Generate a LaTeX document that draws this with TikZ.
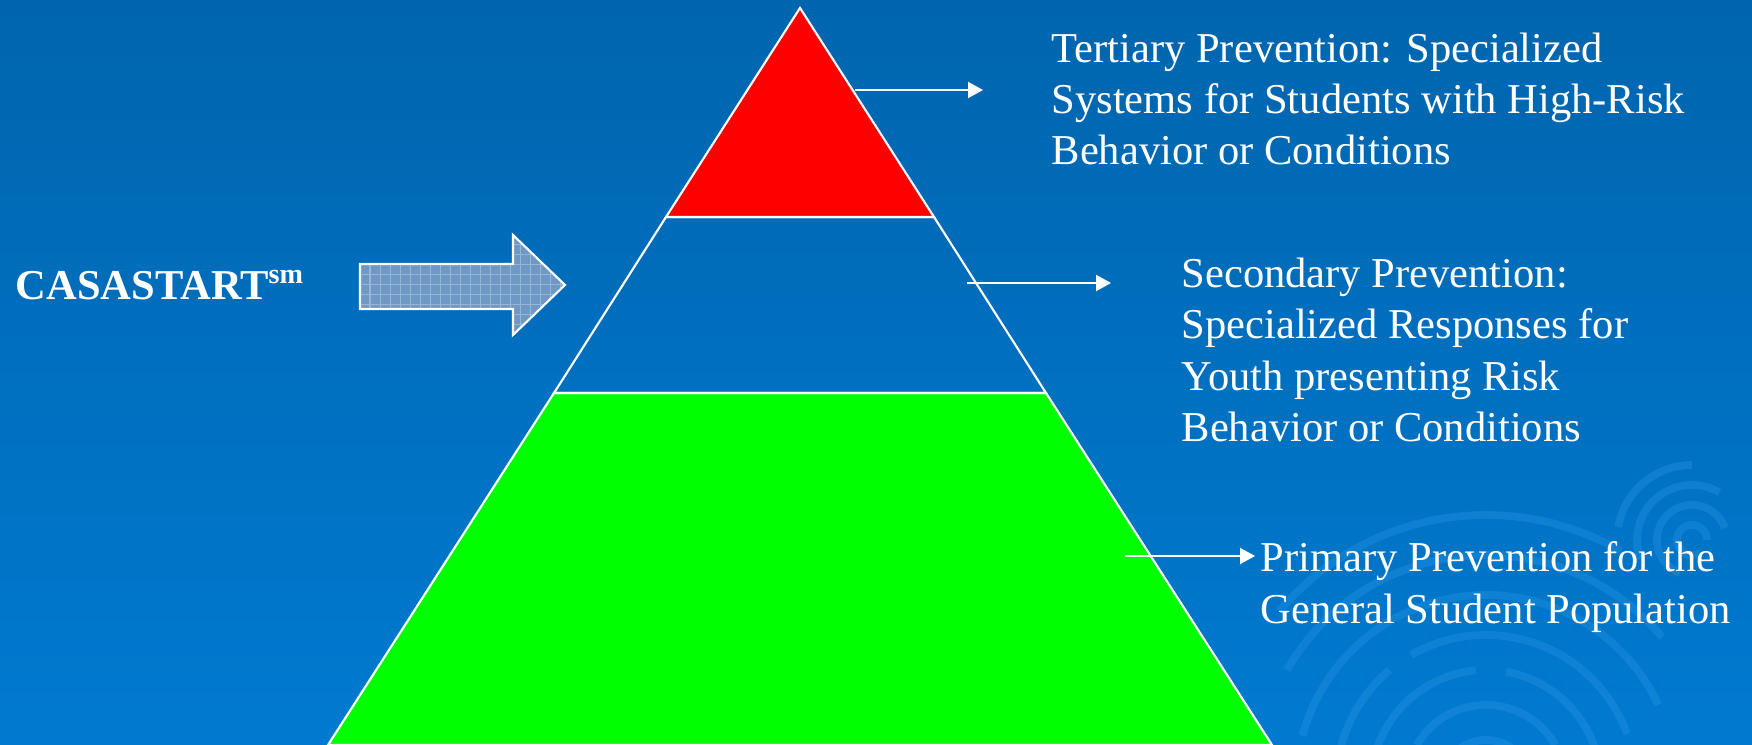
\documentclass[tikz,border=0pt]{standalone}
\usepackage{fontspec}
\setmainfont{Liberation Serif}
\usetikzlibrary{arrows.meta,calc}
\definecolor{bgtop}{RGB}{0,101,174}
\definecolor{bgbot}{RGB}{0,122,208}
\definecolor{swirl}{RGB}{45,150,230}
\definecolor{arrfill}{RGB}{112,152,196}
\definecolor{arrgrid}{RGB}{150,182,216}
\definecolor{pgreen}{RGB}{0,255,0}
\tikzset{
  tier/.style = {draw=white, line width=0.6pt},
  tier_r/.style = {tier, fill=red},
  tier_g/.style = {tier, fill=pgreen},
  labeltext/.style = {align=left, anchor=west, inner sep=0pt, text=white, font=\fontsize{12.1}{14.6}\selectfont},
  pointer/.style = {draw=white, line width=0.6pt, -{Triangle[length=1.5mm,width=1.6mm]}},
  swirlarc/.style = {draw=swirl, line width=2.2pt, opacity=0.35}
}

\begin{document}
\begin{tikzpicture}
  % background
  \shade[top color=bgtop, bottom color=bgbot] (0,0) rectangle (17.52,7.45);
  \useasboundingbox (0,0) rectangle (17.52,7.45);
  \begin{scope}
    \clip (0,0) rectangle (17.52,7.45);
    \foreach \r/\a/\b in {0.45/10/160, 0.8/30/150, 0.8/165/200, 1.15/15/80, 1.15/95/170,
                          1.5/20/120, 1.5/130/175, 1.9/25/165, 2.3/40/150, 2.7/60/140}
      \draw[swirlarc] (14.86,-0.40) ++(\a:\r) arc[start angle=\a, end angle=\b, radius=\r];
    \foreach \r/\a/\b in {0.15/0/300, 0.35/20/250, 0.55/60/200, 0.75/90/170}
      \draw[swirlarc] (16.92,2.05) ++(\a:\r) arc[start angle=\a, end angle=\b, radius=\r];
  \end{scope}

  % pyramid
  \coordinate (apex) at (8.00,7.37);
  \path[tier_g] (3.28,0) -- (12.72,0) -- (10.46,3.52) -- (5.54,3.52) -- cycle;
  \path[tier] (5.54,3.52) -- (10.46,3.52) -- (9.34,5.28) -- (6.66,5.28) -- cycle;
  \path[tier_r] (6.66,5.28) -- (9.34,5.28) -- (apex) -- cycle;

  % block arrow
  \begin{scope}
    \clip (3.60,4.81) -- (5.13,4.81) -- (5.13,5.10) -- (5.65,4.60) -- (5.13,4.10) -- (5.13,4.36) -- (3.60,4.36) -- cycle;
    \fill[arrfill] (3.5,4.0) rectangle (5.7,5.2);
    \draw[arrgrid, line width=0.3pt, step=0.1] (3.5,4.0) grid (5.7,5.2);
  \end{scope}
  \draw[white, line width=0.6pt] (3.60,4.81) -- (5.13,4.81) -- (5.13,5.10) -- (5.65,4.60) -- (5.13,4.10) -- (5.13,4.36) -- (3.60,4.36) -- cycle;

  % labels
  \node[labeltext, font=\fontsize{12.1}{14.6}\selectfont\bfseries] (casa) at (0.15,4.60) {CASASTART\textsuperscript{\fontsize{8}{9}\selectfont sm}};
  \node[labeltext] (tertiary) at (10.51,6.46) {Tertiary Prevention: Specialized\\Systems for Students with High-Risk\\Behavior or Conditions};
  \node[labeltext] (secondary) at (11.81,3.95) {Secondary Prevention:\\Specialized Responses for\\Youth presenting Risk\\Behavior or Conditions};
  \node[labeltext] (primary) at (12.60,1.58) {Primary Prevention for the\\General Student Population};

  % pointers
  \coordinate (t_from) at (8.55,6.55);
  \coordinate (t_to) at (9.83,6.55);
  \coordinate (s_from) at (9.67,4.62);
  \coordinate (s_to) at (11.11,4.62);
  \coordinate (p_from) at (11.25,1.89);
  \draw[pointer] (t_from) -- (t_to);
  \draw[pointer] (s_from) -- (s_to);
  \draw[pointer] (p_from) -- ([xshift=-0.5mm]p_from -| primary.west);
\end{tikzpicture}
\end{document}
